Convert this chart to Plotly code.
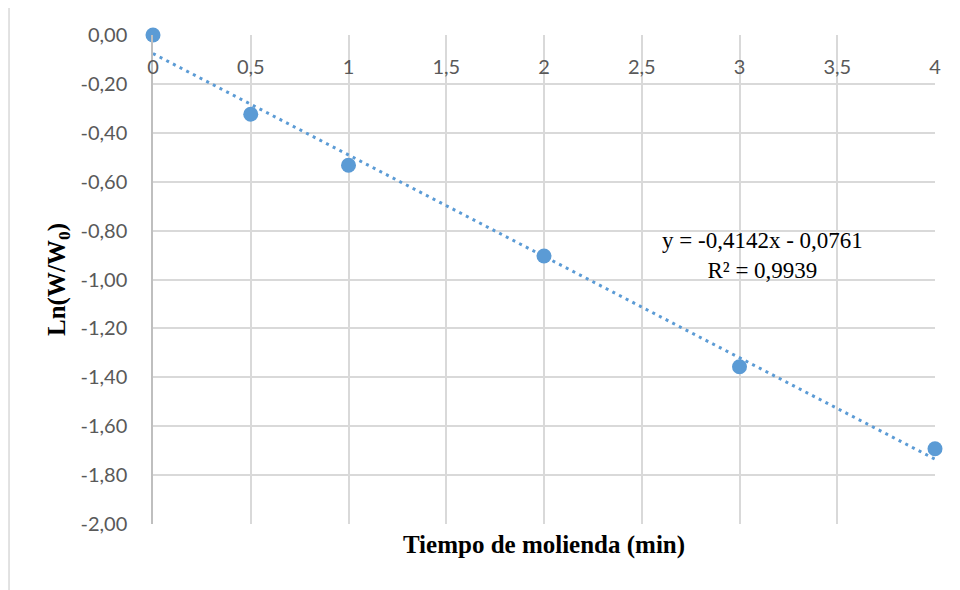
import numpy as np
import plotly.graph_objects as go

# Data
tiempo = [0, 0.5, 1, 2, 3, 4]
ln_w = [0.0, -0.324, -0.533, -0.904, -1.357, -1.692]
x_ticks = [0, 0.5, 1, 1.5, 2, 2.5, 3, 3.5, 4]
x_ticklabels = ["0", "0,5", "1", "1,5", "2", "2,5", "3", "3,5", "4"]
y_ticks = [0, -0.2, -0.4, -0.6, -0.8, -1.0, -1.2, -1.4, -1.6, -1.8, -2.0]
y_ticklabels = ["0,00", "-0,20", "-0,40", "-0,60", "-0,80", "-1,00", "-1,20", "-1,40", "-1,60", "-1,80", "-2,00"]
eq_text = "y = -0,4142x - 0,0761<br>R² = 0,9939"

slope, intercept = np.polyfit(tiempo, ln_w, 1)
trend_x = np.linspace(min(tiempo), max(tiempo), 50)
trend_y = slope * trend_x + intercept

BLUE = "#5B9BD5"
GRID = "#D9D9D9"
TICKFONT = dict(family="Lato, Open Sans, sans-serif", size=20, color="#595959")
SERIF = "Liberation Serif, Times New Roman, serif"

fig = go.Figure()
fig.add_trace(go.Scatter(
    x=trend_x, y=trend_y, mode="lines",
    line=dict(color=BLUE, width=3, dash="3px,4.5px"),
    hoverinfo="skip", showlegend=False, cliponaxis=False,
))
fig.add_trace(go.Scatter(
    x=tiempo, y=ln_w, mode="markers", xaxis="x2",
    marker=dict(color=BLUE, size=15),
    showlegend=False, cliponaxis=False,
))

fig.update_layout(
    width=952, height=582,
    paper_bgcolor="white", plot_bgcolor="white",
    margin=dict(l=145, r=25, t=27, b=66, autoexpand=False),
    xaxis=dict(
        range=[0, 4], tickvals=x_ticks, showticklabels=False,
        showgrid=True, gridcolor=GRID, gridwidth=1.5,
        showline=False, zeroline=False, ticks="", automargin=False,
        title=dict(text="<b>Tiempo de molienda (min)</b>",
                   font=dict(family=SERIF, size=25, color="black"), standoff=11),
    ),
    xaxis2=dict(
        range=[0, 4], overlaying="x", anchor="free", position=0.963, side="bottom",
        tickvals=x_ticks, ticktext=x_ticklabels, tickfont=TICKFONT,
        showgrid=False, showline=False, zeroline=False, ticks="", automargin=False,
    ),
    yaxis=dict(
        range=[-2, 0], tickvals=y_ticks, ticktext=y_ticklabels, tickfont=TICKFONT,
        showgrid=True, gridcolor=GRID, gridwidth=1.5,
        showline=True, linecolor="#BFBFBF", linewidth=1.5,
        zeroline=False, ticks="", ticklabelstandoff=20, automargin=False,
        title=dict(text="<b>Ln(W/W<sub>0</sub>)</b>",
                   font=dict(family=SERIF, size=25, color="black"), standoff=8),
    ),
    shapes=[dict(type="rect", xref="paper", yref="paper",
                 x0=-0.1841, y0=-0.3, x1=1.2, y1=1.0582,
                 line=dict(color=GRID, width=1.5), layer="below")],
    annotations=[
        dict(text=eq_text, xref="x", yref="y", x=3.12, y=-0.90, showarrow=False,
             align="center",
             font=dict(family=SERIF, size=23, color="black")),
    ],
)

fig.write_html("out.html")
